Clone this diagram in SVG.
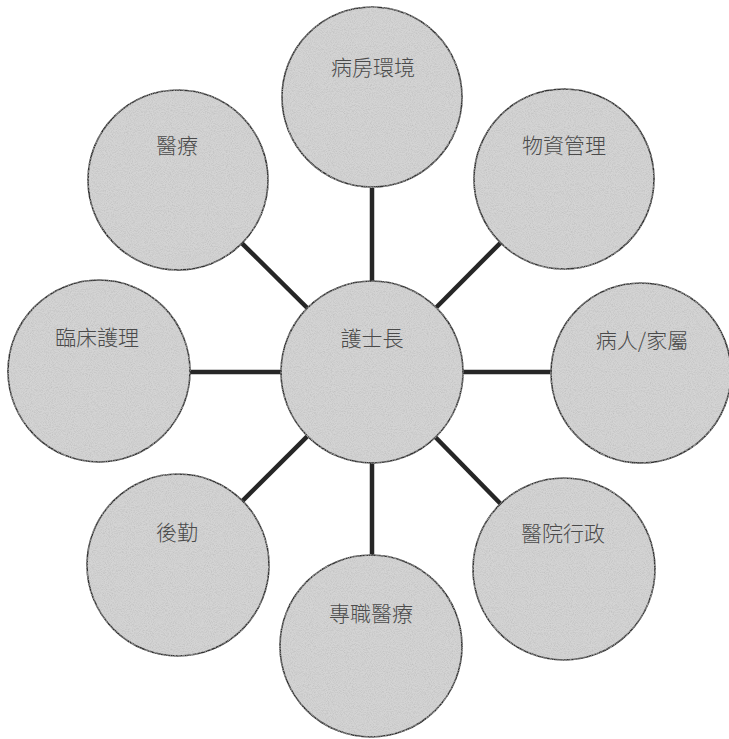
<svg xmlns="http://www.w3.org/2000/svg" width="729" height="739" viewBox="0 0 729 739">
  <style>
    .bg { fill: #ffffff; }
    .conn line { stroke: #262626; stroke-width: 4.5; stroke-linecap: butt; }
    .node circle { fill: #d4d4d4; stroke: #333333; stroke-width: 1.6; filter: url(#grain); }
    .node text { font-family: "Noto Sans CJK TC", "Noto Sans CJK SC", "Noto Sans", sans-serif; font-size: 21px; font-weight: 300; fill: #4a4a4a; text-anchor: middle; }
  </style>
  <defs>
    <filter id="grain" x="-2%" y="-2%" width="104%" height="104%">
      <feTurbulence type="fractalNoise" baseFrequency="0.95" numOctaves="2" seed="7" result="noise"/>
      <feColorMatrix in="noise" type="matrix" values="0 0 0 0 0.5  0 0 0 0 0.5  0 0 0 0 0.5  1.6 0 0 0 -0.62" result="dots"/>
      <feComposite in="dots" in2="SourceGraphic" operator="in" result="clipped"/>
      <feMerge>
        <feMergeNode in="SourceGraphic"/>
        <feMergeNode in="clipped"/>
      </feMerge>
    </filter>
  </defs>
  <rect class="bg" x="0" y="0" width="729" height="739"/>
  <g id="connectors" class="conn">
    <line x1="372" y1="188" x2="372" y2="281"/>
    <line x1="307.3" y1="308" x2="242" y2="243.3"/>
    <line x1="436.2" y1="307.5" x2="500.5" y2="242.8"/>
    <line x1="281" y1="372" x2="190" y2="372"/>
    <line x1="463" y1="372" x2="551" y2="372"/>
    <line x1="307.5" y1="436.2" x2="242.5" y2="500.8"/>
    <line x1="435.5" y1="437.2" x2="500.5" y2="503.8"/>
    <line x1="372" y1="463" x2="372" y2="555"/>
  </g>
  <g id="node-ward-environment" class="node">
    <circle cx="372" cy="97" r="90"/>
    <text x="373" y="75">病房環境</text>
  </g>
  <g id="node-medical" class="node">
    <circle cx="178" cy="180" r="90"/>
    <text x="177" y="153">醫療</text>
  </g>
  <g id="node-supplies" class="node">
    <circle cx="564" cy="179" r="90"/>
    <text x="564" y="153">物資管理</text>
  </g>
  <g id="node-clinical-nursing" class="node">
    <circle cx="99" cy="371" r="91"/>
    <text x="97" y="345">臨床護理</text>
  </g>
  <g id="node-head-nurse" class="node">
    <circle cx="372" cy="372" r="91"/>
    <text x="372" y="346">護士長</text>
  </g>
  <g id="node-patient-family" class="node">
    <circle cx="641" cy="373" r="90"/>
    <text x="642" y="348">病人/家屬</text>
  </g>
  <g id="node-logistics" class="node">
    <circle cx="178" cy="565" r="91"/>
    <text x="177" y="540">後勤</text>
  </g>
  <g id="node-hospital-admin" class="node">
    <circle cx="564" cy="569" r="91"/>
    <text x="563" y="541">醫院行政</text>
  </g>
  <g id="node-allied-health" class="node">
    <circle cx="371" cy="646" r="91"/>
    <text x="371" y="621">專職醫療</text>
  </g>
</svg>
